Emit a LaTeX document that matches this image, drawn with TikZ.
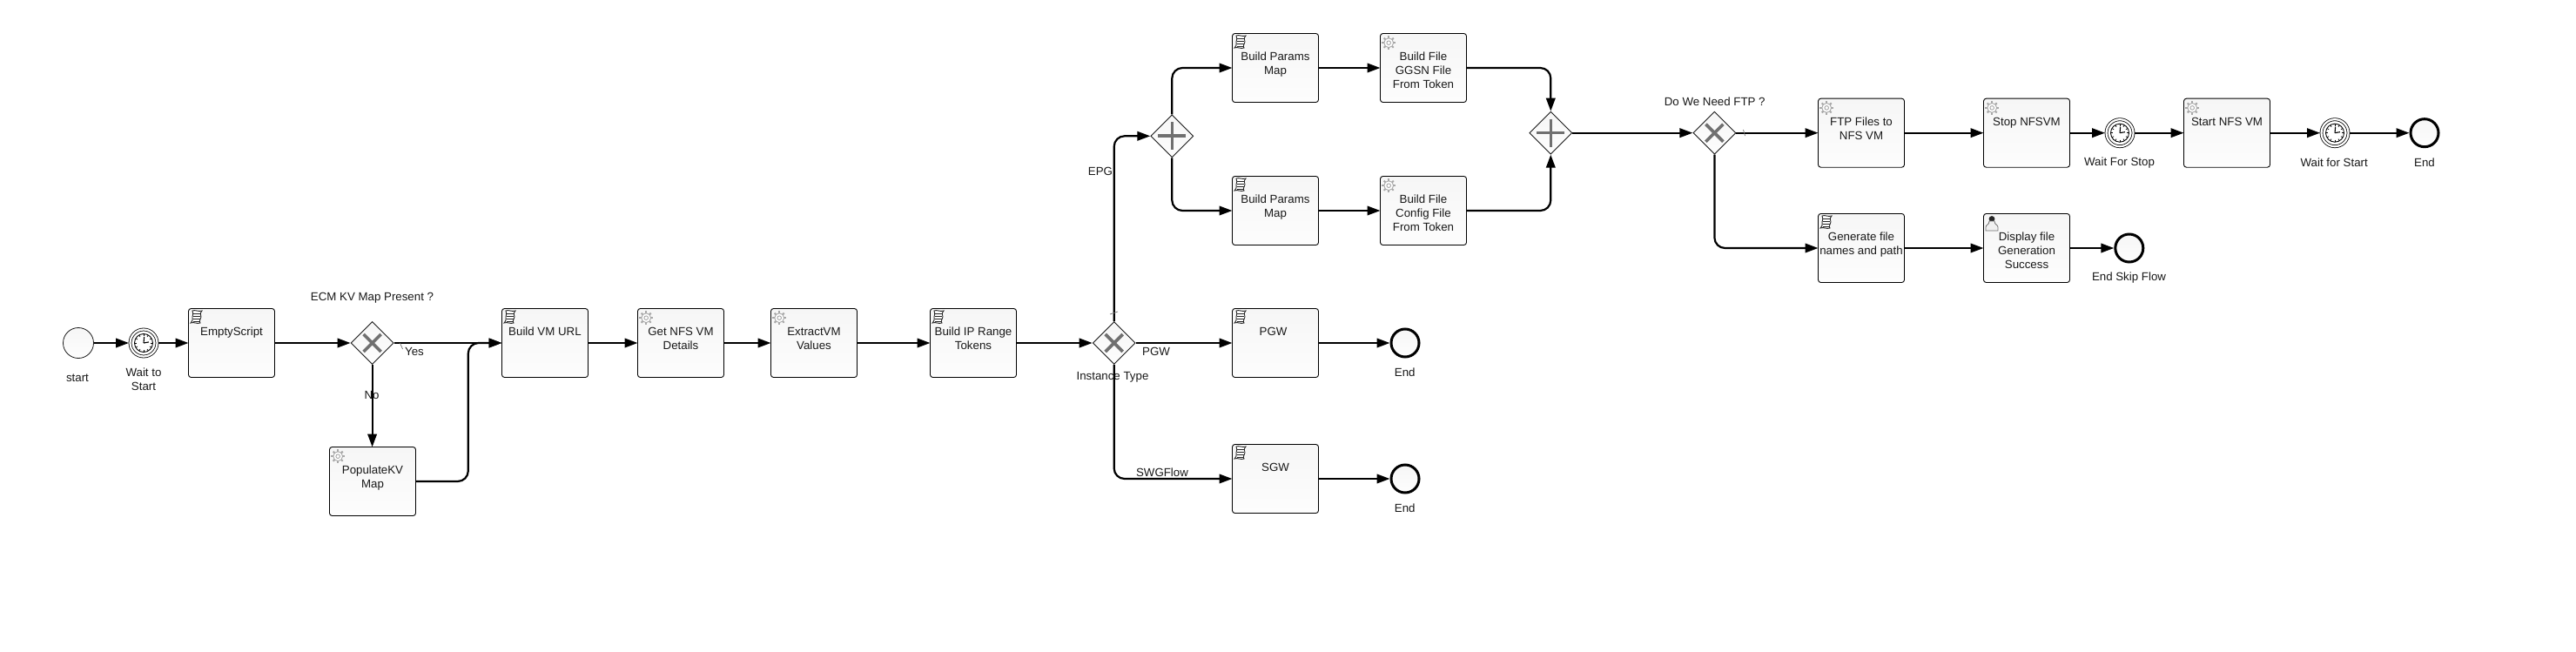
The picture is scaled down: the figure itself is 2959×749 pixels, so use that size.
\documentclass[tikz,border=0pt]{standalone}
\usepackage{fontspec}
\setmainfont{Liberation Sans}
\usetikzlibrary{shapes.geometric}
\usetikzlibrary{arrows.meta}
\definecolor{flowgrey}{HTML}{707070}
\definecolor{geargrey}{HTML}{A8A8A8}
\definecolor{paneltop}{HTML}{F6F6F6}
\definecolor{panelbot}{HTML}{FDFDFD}
\newcommand{\taskbody}[1]{\parbox[c][79pt][t]{97pt}{\centering\vspace*{20pt}\strut #1\par}}
\tikzset{
  every node/.style={font=\fontsize{13.3}{16}\selectfont,text=black!90},
  taskbox/.style={draw=black,line width=0.9pt,rounded corners=3pt,top color=paneltop,bottom color=panelbot,
    minimum width=99pt,minimum height=79pt,inner sep=0pt,outer sep=0pt},
  startev/.style={circle,draw=black!90,line width=0.8pt,top color=paneltop,bottom color=panelbot,minimum size=35pt,inner sep=0pt,outer sep=0pt},
  endev/.style={circle,draw=black,line width=3pt,top color=paneltop,bottom color=panelbot,minimum size=32pt,inner sep=0pt,outer sep=1.5pt},
  timerev/.style={circle,draw=black,line width=0.8pt,double=white,double distance=2.2pt,fill=white,minimum size=31pt,inner sep=0pt,outer sep=1.5pt},
  gatebox/.style={diamond,aspect=1,draw=black!90,line width=0.9pt,top color=paneltop,bottom color=panelbot,minimum size=49pt,inner sep=0pt,outer sep=0.5pt},
  txt/.style={align=center,inner sep=0pt},
  flow/.style={draw=black,line width=2.2pt,rounded corners=12pt,-{Triangle[length=15pt,width=10.5pt]}},
  tick/.style={draw=flowgrey,line width=0.7pt},
  pics/scripticon/.style={code={
    \draw[black!85,line width=0.9pt,fill=white] (2,0) .. controls (5,-1.5) and (9,1.5) .. (13,0) .. controls (10,3) and (12,5) .. (12,7)
      .. controls (12,9) and (9,12) .. (11,14) .. controls (7,15.5) and (4,12.5) .. (0,14) .. controls (3,11) and (2,9) .. (2,7) .. controls (2,5) and (4,2) .. (2,0) -- cycle;
    \foreach \y in {3,6,9,12}
      \draw[black!85,line width=0.8pt] (2.5,\y) -- (10.5,\y);
  }},
  pics/gearicon/.style={code={
    \foreach \a in {0,45,...,315}
      \draw[geargrey,line width=2pt] (\a:5.2) -- (\a:7.8);
    \draw[geargrey,line width=0.9pt,fill=white] (0,0) circle[radius=5.4];
    \draw[geargrey,line width=0.9pt] (0,0) circle[radius=2.3];
  }},
  pics/usericon/.style={code={
    \fill[black!85] (0,0) circle[radius=3.4];
    \draw[black!55,line width=0.8pt,fill=black!6] (-7,13.5) -- (-7,9.5) .. controls (-7,6.5) and (-3,7) .. (-3,2.5) -- (3,2.5) .. controls (3,7) and (7,6.5) .. (7,9.5) -- (7,13.5) -- cycle;
  }},
  pics/clockicon/.style={code={
    \draw[black,line width=0.9pt,fill=white] (0,0) circle[radius=10.5];
    \foreach \a in {0,30,...,330}
      \draw[black,line width=0.7pt] (\a:8) -- (\a:10);
    \draw[black,line width=1.1pt] (0,0) -- (-85:7);
    \draw[black,line width=1.1pt] (0,0) -- (-10:6);
  }},
  pics/xmark/.style={code={
    \draw[flowgrey,line width=3.6pt] (-10,-10) -- (10,10) (-10,10) -- (10,-10);
  }},
  pics/plusmark/.style={code={
    \draw[flowgrey,line width=3.6pt] (-16,0) -- (16,0) (0,-16) -- (0,16);
  }}
}
\begin{document}
\begin{tikzpicture}[x=1pt,y=-1pt]
\useasboundingbox[fill=white] (0,0) rectangle (2959,749);
% events on the left
\node[startev] (start) at (90,394) {};
\node[timerev] (waitstart) at (165,394) {};
\pic at (waitstart) {clockicon};
\node[txt] (startlbl) at (89,434) {start};
\node[txt] (waitstartlbl) at (165,435.7) {Wait to\\Start};
% tasks
\foreach \name/\x/\y/\body in {
  emptyscript/266/394/EmptyScript,
  vmurl/626/394/Build VM URL,
  nfsdetails/782/394/Get NFS VM\\Details,
  extractvm/935/394/ExtractVM\\Values,
  iprange/1118/394/Build IP Range\\Tokens,
  populatekv/428/553/PopulateKV\\Map,
  paramsa/1465/78/Build Params\\Map,
  paramsb/1465/242/Build Params\\Map,
  filea/1635/78/Build File\\GGSN File\\From Token,
  fileb/1635/242/Build File\hspace*{4pt}\\Config File\\From Token,
  pgw/1465/394/PGW\hspace*{5pt},
  sgw/1465/550/SGW,
  ftpfiles/2138/152.7/FTP Files to\\NFS VM,
  stopnfs/2328/152.7/Stop NFSVM,
  startnfs/2558/152.7/Start NFS VM,
  genfiles/2138/285/Generate file\\names and path,
  dispfile/2328/285/Display file\\Generation\\Success}
  \node[taskbox] (\name) at (\x,\y) {\taskbody{\body}};
% task icons
\foreach \name in {emptyscript,vmurl,iprange,paramsa,paramsb,pgw,sgw,genfiles}
  \pic at ([xshift=2.5pt,yshift=-2.5pt]\name.north west) {scripticon};
\foreach \name in {nfsdetails,extractvm,populatekv,filea,fileb,ftpfiles,stopnfs,startnfs}
  \pic at ([xshift=9.7pt,yshift=-10.7pt]\name.north west) {gearicon};
\pic at ([xshift=9.5pt,yshift=-6pt]dispfile.north west) {usericon};
% gateways
\node[gatebox] (ecmgate) at (427.6,394) {};
\pic at (ecmgate) {xmark};
\node[gatebox] (typegate) at (1279.7,394) {};
\pic at (typegate) {xmark};
\node[gatebox] (forkgate) at (1346.3,156.3) {};
\pic at (forkgate) {plusmark};
\node[gatebox] (joingate) at (1781.3,152.7) {};
\pic at (joingate) {plusmark};
\node[gatebox] (ftpgate) at (1969.4,152.7) {};
\pic at (ftpgate) {xmark};
% timers and end events
\node[timerev] (waitstop) at (2435,152.7) {};
\pic at (waitstop) {clockicon};
\node[timerev] (waitagain) at (2682,152.7) {};
\pic at (waitagain) {clockicon};
\node[endev] (endpgw) at (1614,394) {};
\node[endev] (endsgw) at (1614,550) {};
\node[endev] (endnfs) at (2785,152.7) {};
\node[endev] (endskip) at (2445.8,285) {};
% labels
\node[txt] (ecmlbl) at (427.5,342.7) {ECM KV Map Present ?};
\node[txt] (typelbl) at (1278,433.7) {Instance Type};
\node[txt] (ftplbl) at (1969.7,116.7) {Do We Need FTP ?};
\node[txt] (waitstoplbl) at (2434.5,186.7) {Wait For Stop};
\node[txt] (waitagainlbl) at (2681.2,186.7) {Wait for Start};
\node[txt] (endpgwlbl) at (1613.7,427.3) {End};
\node[txt] (endsgwlbl) at (1613.7,583.7) {End};
\node[txt] (endnfslbl) at (2785,186.7) {End};
\node[txt] (endskiplbl) at (2445.5,318.7) {End Skip Flow};
% straight flows
\foreach \a/\b in {start/waitstart,waitstart/emptyscript,emptyscript/ecmgate,ecmgate/vmurl,vmurl/nfsdetails,
  nfsdetails/extractvm,extractvm/iprange,iprange/typegate,typegate/pgw,pgw/endpgw,sgw/endsgw,
  paramsa/filea,paramsb/fileb,joingate/ftpgate,ftpgate/ftpfiles,ftpfiles/stopnfs,stopnfs/waitstop,
  waitstop/startnfs,startnfs/waitagain,waitagain/endnfs,genfiles/dispfile,dispfile/endskip}
  \draw[flow] (\a) -- (\b);
\draw[flow] (ecmgate.south) -- (ecmgate.south |- populatekv.north);
% flows with a bend
\draw[flow] (populatekv.east) -| (537.8,394) -- (vmurl.west);
\draw[flow] (typegate.south) |- (sgw.west);
\draw[flow] (typegate.north) |- (forkgate.west);
\draw[flow] (forkgate.north) |- (paramsa.west);
\draw[flow] (forkgate.south) |- (paramsb.west);
\draw[flow] (filea.east) -| (joingate.north);
\draw[flow] (fileb.east) -| (joingate.south);
\draw[flow] (ftpgate.south) |- (genfiles.west);
% labels that sit on flows
\node[txt] (nolbl) at (427,453.7) {No};
\node[txt] (yeslbl) at (476,403.7) {Yes};
\node[txt] (epglbl) at (1264,196.7) {EPG};
\node[txt] (pgwlbl) at (1328,403.7) {PGW};
\node[txt] (swglbl) at (1335,542.7) {SWGFlow};
% default flow ticks
\draw[tick] (459.5,394) -- (462.5,401);
\draw[tick] (1275,361) -- (1284,358);
\draw[tick] (2002.5,149) -- (2004.5,156);
\end{tikzpicture}
\end{document}
